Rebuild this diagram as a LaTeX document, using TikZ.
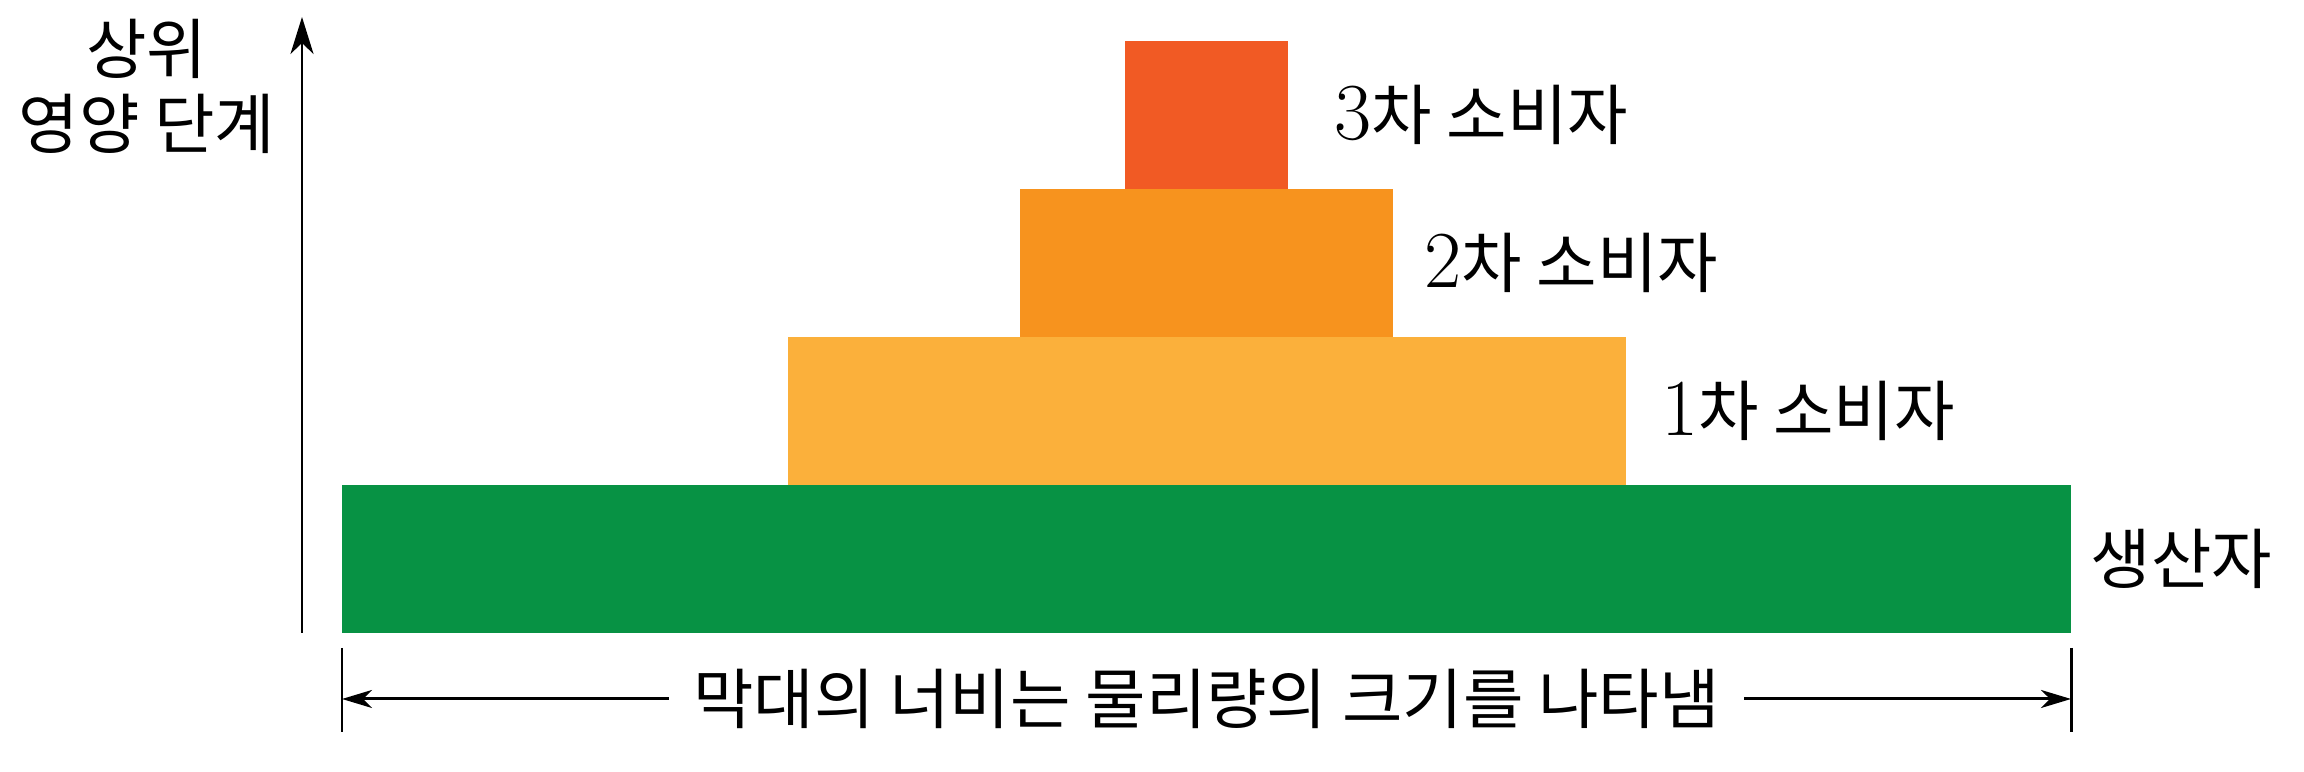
\documentclass[tikz,border=0pt]{standalone}
\usepackage{fontspec}
\newfontfamily\kr{Noto Sans CJK KR}
\usepackage{xcolor}
\usepackage{tikz}
\usetikzlibrary{positioning,arrows.meta}

\definecolor{lvlred}{HTML}{F15A24}
\definecolor{lvlorange}{HTML}{F7931E}
\definecolor{lvlyellow}{HTML}{FBB03B}
\definecolor{lvlgreen}{HTML}{079244}

\newcommand{\lvlnum}[1]{{\rmfamily\fontsize{23}{28}\selectfont #1}}

\begin{document}
\begin{tikzpicture}[eco bar/.style={rectangle, inner sep=0pt, outer sep=0pt, minimum height=1.48cm},
                    eco label/.style={inner sep=0pt, anchor=west, font=\kr\fontsize{18.7}{21.3}\selectfont},
                    eco line/.style={line width=0.85pt}]

    \useasboundingbox (0,0) rectangle (23.04,7.72);

    \node [eco bar, fill=lvlgreen, minimum width=17.29cm] (producer) at (12.065,2.13) {};
    \node [eco bar, fill=lvlyellow, minimum width=8.38cm, above=0pt of producer] (first) {};
    \node [eco bar, fill=lvlorange, minimum width=3.73cm, above=0pt of first] (second) {};
    \node [eco bar, fill=lvlred, minimum width=1.63cm, above=0pt of second] (third) {};

    \node [eco label, right=0.46cm of third] (third label) {\lvlnum{3}차 소비자};
    \node [eco label, right=0.31cm of second] (second label) {\lvlnum{2}차 소비자};
    \node [eco label, right=0.35cm of first] (first label) {\lvlnum{1}차 소비자};
    \node [eco label, right=0.19cm of producer] (producer label) {생산자};

    % axis on the left
    \node [eco label, anchor=center, align=center] (axis label) at (1.47,6.86) {상위\\영양 단계};
    \coordinate (axis low) at (3.02,1.39);
    \coordinate (axis high) at (3.02,7.55);
    \draw [eco line, -{Stealth[length=3.7mm, width=2.3mm, inset=1.1mm]}] (axis low) -- (axis high);

    % width of the bars
    \coordinate (tick l1) at (3.42,1.24);
    \coordinate (tick l2) at (3.42,0.40);
    \coordinate (tick r1) at (20.71,1.24);
    \coordinate (tick r2) at (20.71,0.40);
    \draw [eco line] (tick l1) -- (tick l2);
    \draw [eco line] (tick r1) -- (tick r2);
    \node [eco label, anchor=center, minimum width=10.74cm] (width label) at (12.065,0.73) {막대의 너비는 물리량의 크기를 나타냄};
    \coordinate (arrow l) at (3.42,0.73);
    \coordinate (arrow r) at (20.71,0.73);
    \draw [eco line, -{Stealth[length=3mm, width=1.8mm, inset=0.9mm]}] (width label.west) -- (arrow l);
    \draw [eco line, -{Stealth[length=3mm, width=1.8mm, inset=0.9mm]}] (width label.east) -- (arrow r);

\end{tikzpicture}
\end{document}
